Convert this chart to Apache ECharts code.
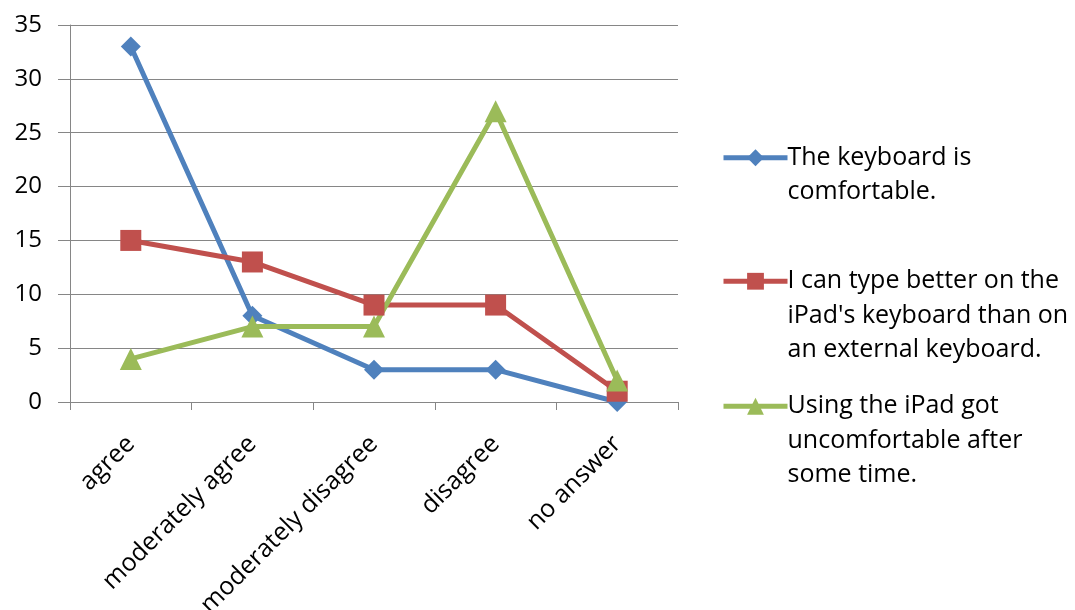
<!DOCTYPE html>
<html>
<head>
<meta charset="utf-8">
<script src="https://cdn.jsdelivr.net/npm/echarts@6/dist/echarts.min.js"></script>
<style>
  html, body { margin: 0; padding: 0; background: #ffffff; }
  #chart { width: 1075px; height: 610px; }
</style>
</head>
<body>
<div id="chart"></div>
<script>
// Survey answers per response category
const categories = ['agree', 'moderately agree', 'moderately disagree', 'disagree', 'no answer'];
const keyboardComfortable = [33, 8, 3, 3, 0];
const typeBetterOnIpad = [15, 13, 9, 9, 1];
const gotUncomfortable = [4, 7, 7, 27, 2];

const seriesNames = [
  'The keyboard is\ncomfortable.',
  'I can type better on the\niPad\'s keyboard than on\nan external keyboard.',
  'Using the iPad got\nuncomfortable after\nsome time.'
];

const colors = ['#4F81BD', '#C0504D', '#9BBB59'];
const fontFamily = '"Open Sans", sans-serif';
const lineH = 34.5;

// One legend block per series; blank lines above the name keep the
// marker level with the first text line.
function legendFor(i, top) {
  const lines = seriesNames[i].split('\n').length;
  return {
    data: [seriesNames[i]],
    left: 716,
    top: top,
    orient: 'vertical',
    itemWidth: 64,
    itemHeight: 21,
    itemGap: 0,
    selectedMode: false,
    formatter: name => '\n'.repeat(lines - 1) + name,
    lineStyle: { width: 5 },
    textStyle: {
      fontFamily: fontFamily,
      fontSize: 25,
      color: '#000000',
      lineHeight: lineH,
      padding: [0, 0, 0, -5]
    }
  };
}

const chart = echarts.init(document.getElementById('chart'), null, { renderer: 'canvas' });

chart.setOption({
  animation: false,
  backgroundColor: '#ffffff',
  color: colors,
  grid: {
    left: 70, right: 397, top: 25, bottom: 208,
    containLabel: false,
    outerBoundsMode: 'none'
  },
  legend: [legendFor(0, 101), legendFor(1, 190), legendFor(2, 315)],
  xAxis: {
    type: 'category',
    data: categories,
    boundaryGap: true,
    axisLine: { lineStyle: { color: '#868686', width: 1 } },
    axisTick: { show: true, length: 8, lineStyle: { color: '#868686' } },
    axisLabel: {
      rotate: 45,
      margin: 38,
      fontFamily: fontFamily,
      fontSize: 25,
      color: '#000000',
      interval: 0
    }
  },
  yAxis: {
    type: 'value',
    min: 0,
    max: 35,
    interval: 5,
    axisLine: { show: true, lineStyle: { color: '#868686', width: 1 } },
    axisTick: { show: true, inside: false, length: 12, lineStyle: { color: '#868686' } },
    splitLine: { lineStyle: { color: '#868686', width: 1 } },
    axisLabel: {
      margin: 28,
      fontFamily: fontFamily,
      fontSize: 24,
      color: '#000000'
    }
  },
  series: [
    {
      name: seriesNames[0],
      type: 'line',
      data: keyboardComfortable,
      symbol: 'diamond',
      symbolSize: 20,
      lineStyle: { width: 5, color: colors[0] },
      itemStyle: { color: colors[0] }
    },
    {
      name: seriesNames[1],
      type: 'line',
      data: typeBetterOnIpad,
      symbol: 'rect',
      symbolSize: 21,
      lineStyle: { width: 5, color: colors[1] },
      itemStyle: { color: colors[1] }
    },
    {
      name: seriesNames[2],
      type: 'line',
      data: gotUncomfortable,
      symbol: 'triangle',
      symbolSize: 22,
      lineStyle: { width: 5, color: colors[2] },
      itemStyle: { color: colors[2] }
    }
  ]
});
</script>
</body>
</html>
